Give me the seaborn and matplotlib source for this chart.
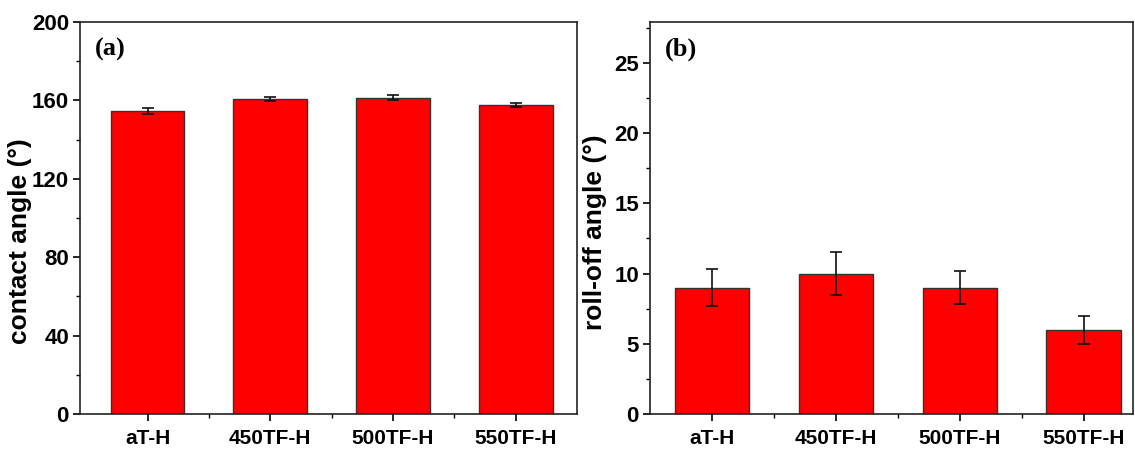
import numpy as np
import pandas as pd
import matplotlib.pyplot as plt
import seaborn as sns
from matplotlib.ticker import MultipleLocator, FixedLocator

samples = ['aT-H', '450TF-H', '500TF-H', '550TF-H']
contact = [154.5, 160.8, 161.5, 157.9]
contact_err = [1.6, 1.1, 1.3, 1.0]
rolloff = [9.0, 10.0, 9.0, 6.0]
rolloff_err = [1.3, 1.5, 1.2, 1.0]

sns.set_theme(style='ticks')
plt.rcParams['font.family'] = ['Liberation Sans', 'DejaVu Sans']
plt.rcParams['font.weight'] = 'bold'
plt.rcParams['text.color'] = 'black'
plt.rcParams['axes.labelcolor'] = 'black'
plt.rcParams['xtick.color'] = 'black'
plt.rcParams['ytick.color'] = 'black'

fig = plt.figure(figsize=(11.35, 4.5), dpi=100)
ax_a = fig.add_axes([0.0705, 0.08, 0.438, 0.871])
ax_b = fig.add_axes([0.5727, 0.08, 0.4256, 0.871])

panels = [
    (ax_a, contact, contact_err, 'contact angle (°)', (0, 200), 40, 20, '(a)',
     (-0.55, 3.5), (-0.097, 0.44)),
    (ax_b, rolloff, rolloff_err, 'roll-off angle (°)', (0, 27.9), 5, 2.5, '(b)',
     (-0.5, 3.4), (-0.089, 0.464)),
]

for ax, vals, errs, label, ylim, major, minor, tag, xlim, lab_xy in panels:
    df = pd.DataFrame({'sample': samples, 'value': vals})
    sns.barplot(data=df, x='sample', y='value', ax=ax, color='#ff0000',
                saturation=1, width=0.6, edgecolor='#333333', linewidth=1.0,
                errorbar=None)
    ax.errorbar(np.arange(len(samples)), vals, yerr=errs, fmt='none',
                ecolor='#111111', elinewidth=1.2, capsize=4, capthick=1.2)
    ax.set_ylim(*ylim)
    ax.set_xlim(*xlim)
    ax.yaxis.set_major_locator(MultipleLocator(major))
    ax.yaxis.set_minor_locator(MultipleLocator(minor))
    ax.xaxis.set_minor_locator(FixedLocator([0.5, 1.5, 2.5]))
    ax.set_xlabel('')
    ax.set_ylabel(label, fontsize=19, fontweight='bold')
    ax.yaxis.set_label_coords(*lab_xy)
    ax.tick_params(axis='y', which='major', labelsize=16, length=5, width=1.2, pad=3)
    ax.tick_params(axis='x', which='major', labelsize=15, length=5, width=1.2, pad=6)
    ax.tick_params(which='minor', length=3, width=1.0)
    for lbl in ax.get_xticklabels() + ax.get_yticklabels():
        lbl.set_fontweight('bold')
    for s in ax.spines.values():
        s.set_visible(True)
        s.set_linewidth(1.2)
        s.set_color('#222222')
    ax.text(0.03, 0.96, tag, transform=ax.transAxes, ha='left', va='top',
            fontsize=19, fontweight='bold', family=['Liberation Serif', 'DejaVu Serif'])

fig.savefig('out.png', dpi=100)
